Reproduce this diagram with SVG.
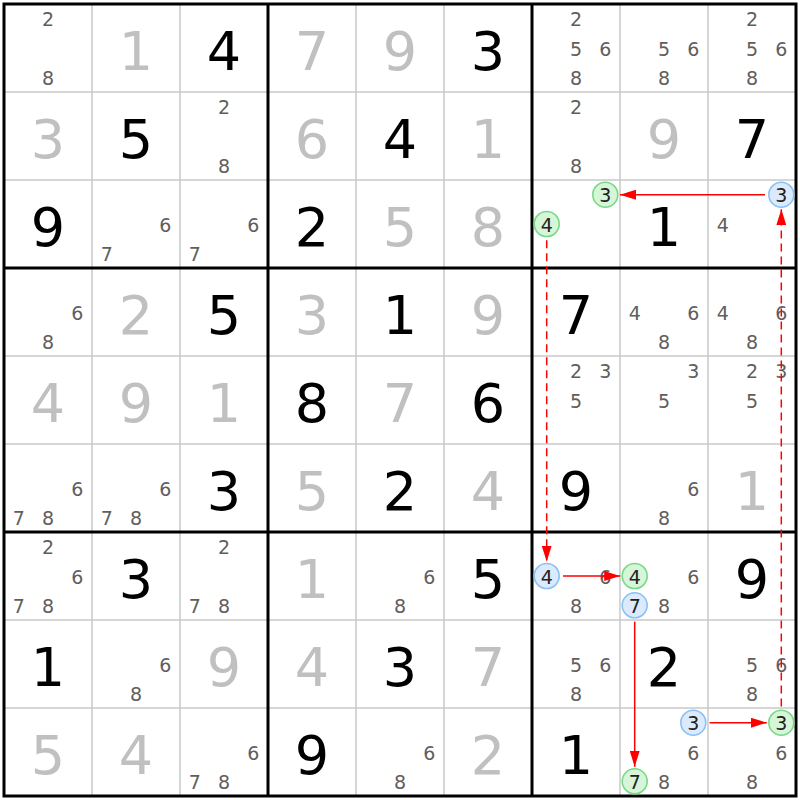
<svg xmlns="http://www.w3.org/2000/svg" width="800" height="800" viewBox="0 0 800 800">
<style>
text{font-family:"DejaVu Sans","Liberation Sans",sans-serif;text-anchor:middle}
.g{font-size:54px;fill:#000}
.s{font-size:54px;fill:#c0c0c0}
.c{font-size:19px;fill:#5e5e5e}
.ct{font-size:19px;fill:#222}
.cg{fill:#d6f5d9;stroke:#78d987;stroke-width:1.6}
.cb{fill:#dbeafc;stroke:#8ac2f4;stroke-width:1.6}
.thin{stroke:#c8c8c8;stroke-width:1.5}
.thick{stroke:#000;stroke-width:3}
.arr{stroke:#f00;stroke-width:1.5;fill:none;marker-end:url(#ah)}
.dash{stroke-dasharray:8 5}
</style>
<defs>
<marker id="ah" markerUnits="userSpaceOnUse" markerWidth="16" markerHeight="10" refX="16" refY="5" orient="auto">
<path d="M0,0 L16,5 L0,10 z" fill="#f00"/>
</marker>
</defs>
<rect x="0" y="0" width="800" height="800" fill="#fff"/>
<g id="grid">
<g class="thin">
<line x1="92" y1="4" x2="92" y2="796"/><line x1="180" y1="4" x2="180" y2="796"/>
<line x1="356" y1="4" x2="356" y2="796"/><line x1="444" y1="4" x2="444" y2="796"/>
<line x1="620" y1="4" x2="620" y2="796"/><line x1="708" y1="4" x2="708" y2="796"/>
<line x1="4" y1="92" x2="796" y2="92"/><line x1="4" y1="180" x2="796" y2="180"/>
<line x1="4" y1="356" x2="796" y2="356"/><line x1="4" y1="444" x2="796" y2="444"/>
<line x1="4" y1="620" x2="796" y2="620"/><line x1="4" y1="708" x2="796" y2="708"/>
</g>
<g class="thick">
<line x1="268" y1="4" x2="268" y2="796"/><line x1="532" y1="4" x2="532" y2="796"/>
<line x1="4" y1="268" x2="796" y2="268"/><line x1="4" y1="532" x2="796" y2="532"/>
<rect x="4" y="4" width="792" height="792" fill="none"/>
</g>
</g>
<g id="r0c0"><text class="c" x="48" y="26.2">2</text><text class="c" x="48" y="84.8">8</text></g>
<g id="r0c1"><text class="s" x="136" y="69.5">1</text></g>
<g id="r0c2"><text class="g" x="224" y="69.5">4</text></g>
<g id="r0c3"><text class="s" x="312" y="69.5">7</text></g>
<g id="r0c4"><text class="s" x="400" y="69.5">9</text></g>
<g id="r0c5"><text class="g" x="488" y="69.5">3</text></g>
<g id="r0c6"><text class="c" x="576" y="26.2">2</text><text class="c" x="576" y="55.5">5</text><text class="c" x="605.3" y="55.5">6</text><text class="c" x="576" y="84.8">8</text></g>
<g id="r0c7"><text class="c" x="664" y="55.5">5</text><text class="c" x="693.3" y="55.5">6</text><text class="c" x="664" y="84.8">8</text></g>
<g id="r0c8"><text class="c" x="752" y="26.2">2</text><text class="c" x="752" y="55.5">5</text><text class="c" x="781.3" y="55.5">6</text><text class="c" x="752" y="84.8">8</text></g>

<g id="r1c0"><text class="s" x="48" y="157.5">3</text></g>
<g id="r1c1"><text class="g" x="136" y="157.5">5</text></g>
<g id="r1c2"><text class="c" x="224" y="114.2">2</text><text class="c" x="224" y="172.8">8</text></g>
<g id="r1c3"><text class="s" x="312" y="157.5">6</text></g>
<g id="r1c4"><text class="g" x="400" y="157.5">4</text></g>
<g id="r1c5"><text class="s" x="488" y="157.5">1</text></g>
<g id="r1c6"><text class="c" x="576" y="114.2">2</text><text class="c" x="576" y="172.8">8</text></g>
<g id="r1c7"><text class="s" x="664" y="157.5">9</text></g>
<g id="r1c8"><text class="g" x="752" y="157.5">7</text></g>

<g id="r2c0"><text class="g" x="48" y="245.5">9</text></g>
<g id="r2c1"><text class="c" x="165.3" y="231.5">6</text><text class="c" x="106.7" y="260.8">7</text></g>
<g id="r2c2"><text class="c" x="253.3" y="231.5">6</text><text class="c" x="194.7" y="260.8">7</text></g>
<g id="r2c3"><text class="g" x="312" y="245.5">2</text></g>
<g id="r2c4"><text class="s" x="400" y="245.5">5</text></g>
<g id="r2c5"><text class="s" x="488" y="245.5">8</text></g>
<g id="r2c6"><circle class="cg" cx="605.3" cy="194.7" r="12.5"/><text class="ct" x="605.3" y="202.2">3</text><circle class="cg" cx="546.7" cy="224" r="12.5"/><text class="ct" x="546.7" y="231.5">4</text></g>
<g id="r2c7"><text class="g" x="664" y="245.5">1</text></g>
<g id="r2c8"><circle class="cb" cx="781.3" cy="194.7" r="12.5"/><text class="ct" x="781.3" y="202.2">3</text><text class="c" x="722.7" y="231.5">4</text></g>

<g id="r3c0"><text class="c" x="77.3" y="319.5">6</text><text class="c" x="48" y="348.8">8</text></g>
<g id="r3c1"><text class="s" x="136" y="333.5">2</text></g>
<g id="r3c2"><text class="g" x="224" y="333.5">5</text></g>
<g id="r3c3"><text class="s" x="312" y="333.5">3</text></g>
<g id="r3c4"><text class="g" x="400" y="333.5">1</text></g>
<g id="r3c5"><text class="s" x="488" y="333.5">9</text></g>
<g id="r3c6"><text class="g" x="576" y="333.5">7</text></g>
<g id="r3c7"><text class="c" x="634.7" y="319.5">4</text><text class="c" x="693.3" y="319.5">6</text><text class="c" x="664" y="348.8">8</text></g>
<g id="r3c8"><text class="c" x="722.7" y="319.5">4</text><text class="c" x="781.3" y="319.5">6</text><text class="c" x="752" y="348.8">8</text></g>

<g id="r4c0"><text class="s" x="48" y="421.5">4</text></g>
<g id="r4c1"><text class="s" x="136" y="421.5">9</text></g>
<g id="r4c2"><text class="s" x="224" y="421.5">1</text></g>
<g id="r4c3"><text class="g" x="312" y="421.5">8</text></g>
<g id="r4c4"><text class="s" x="400" y="421.5">7</text></g>
<g id="r4c5"><text class="g" x="488" y="421.5">6</text></g>
<g id="r4c6"><text class="c" x="576" y="378.2">2</text><text class="c" x="605.3" y="378.2">3</text><text class="c" x="576" y="407.5">5</text></g>
<g id="r4c7"><text class="c" x="693.3" y="378.2">3</text><text class="c" x="664" y="407.5">5</text></g>
<g id="r4c8"><text class="c" x="752" y="378.2">2</text><text class="c" x="781.3" y="378.2">3</text><text class="c" x="752" y="407.5">5</text></g>

<g id="r5c0"><text class="c" x="77.3" y="495.5">6</text><text class="c" x="18.7" y="524.8">7</text><text class="c" x="48" y="524.8">8</text></g>
<g id="r5c1"><text class="c" x="165.3" y="495.5">6</text><text class="c" x="106.7" y="524.8">7</text><text class="c" x="136" y="524.8">8</text></g>
<g id="r5c2"><text class="g" x="224" y="509.5">3</text></g>
<g id="r5c3"><text class="s" x="312" y="509.5">5</text></g>
<g id="r5c4"><text class="g" x="400" y="509.5">2</text></g>
<g id="r5c5"><text class="s" x="488" y="509.5">4</text></g>
<g id="r5c6"><text class="g" x="576" y="509.5">9</text></g>
<g id="r5c7"><text class="c" x="693.3" y="495.5">6</text><text class="c" x="664" y="524.8">8</text></g>
<g id="r5c8"><text class="s" x="752" y="509.5">1</text></g>

<g id="r6c0"><text class="c" x="48" y="554.2">2</text><text class="c" x="77.3" y="583.5">6</text><text class="c" x="18.7" y="612.8">7</text><text class="c" x="48" y="612.8">8</text></g>
<g id="r6c1"><text class="g" x="136" y="597.5">3</text></g>
<g id="r6c2"><text class="c" x="224" y="554.2">2</text><text class="c" x="194.7" y="612.8">7</text><text class="c" x="224" y="612.8">8</text></g>
<g id="r6c3"><text class="s" x="312" y="597.5">1</text></g>
<g id="r6c4"><text class="c" x="429.3" y="583.5">6</text><text class="c" x="400" y="612.8">8</text></g>
<g id="r6c5"><text class="g" x="488" y="597.5">5</text></g>
<g id="r6c6"><circle class="cb" cx="546.7" cy="576" r="12.5"/><text class="ct" x="546.7" y="583.5">4</text><text class="c" x="605.3" y="583.5">6</text><text class="c" x="576" y="612.8">8</text></g>
<g id="r6c7"><circle class="cg" cx="634.7" cy="576" r="12.5"/><text class="ct" x="634.7" y="583.5">4</text><text class="c" x="693.3" y="583.5">6</text><circle class="cb" cx="634.7" cy="605.3" r="12.5"/><text class="ct" x="634.7" y="612.8">7</text><text class="c" x="664" y="612.8">8</text></g>
<g id="r6c8"><text class="g" x="752" y="597.5">9</text></g>

<g id="r7c0"><text class="g" x="48" y="685.5">1</text></g>
<g id="r7c1"><text class="c" x="165.3" y="671.5">6</text><text class="c" x="136" y="700.8">8</text></g>
<g id="r7c2"><text class="s" x="224" y="685.5">9</text></g>
<g id="r7c3"><text class="s" x="312" y="685.5">4</text></g>
<g id="r7c4"><text class="g" x="400" y="685.5">3</text></g>
<g id="r7c5"><text class="s" x="488" y="685.5">7</text></g>
<g id="r7c6"><text class="c" x="576" y="671.5">5</text><text class="c" x="605.3" y="671.5">6</text><text class="c" x="576" y="700.8">8</text></g>
<g id="r7c7"><text class="g" x="664" y="685.5">2</text></g>
<g id="r7c8"><text class="c" x="752" y="671.5">5</text><text class="c" x="781.3" y="671.5">6</text><text class="c" x="752" y="700.8">8</text></g>

<g id="r8c0"><text class="s" x="48" y="773.5">5</text></g>
<g id="r8c1"><text class="s" x="136" y="773.5">4</text></g>
<g id="r8c2"><text class="c" x="253.3" y="759.5">6</text><text class="c" x="194.7" y="788.8">7</text><text class="c" x="224" y="788.8">8</text></g>
<g id="r8c3"><text class="g" x="312" y="773.5">9</text></g>
<g id="r8c4"><text class="c" x="429.3" y="759.5">6</text><text class="c" x="400" y="788.8">8</text></g>
<g id="r8c5"><text class="s" x="488" y="773.5">2</text></g>
<g id="r8c6"><text class="g" x="576" y="773.5">1</text></g>
<g id="r8c7"><circle class="cb" cx="693.3" cy="722.7" r="12.5"/><text class="ct" x="693.3" y="730.2">3</text><text class="c" x="693.3" y="759.5">6</text><circle class="cg" cx="634.7" cy="781.3" r="12.5"/><text class="ct" x="634.7" y="788.8">7</text><text class="c" x="664" y="788.8">8</text></g>
<g id="r8c8"><circle class="cg" cx="781.3" cy="722.7" r="12.5"/><text class="ct" x="781.3" y="730.2">3</text><text class="c" x="781.3" y="759.5">6</text><text class="c" x="752" y="788.8">8</text></g>

<g id="connectors">
<line class="arr" x1="765" y1="194.7" x2="620" y2="194.7"/>
<line class="arr dash" x1="546.7" y1="240.3" x2="546.7" y2="561.5"/>
<line class="arr" x1="563" y1="576" x2="620.2" y2="576"/>
<line class="arr" x1="634.7" y1="621.6" x2="634.7" y2="766.8"/>
<line class="arr" x1="709.6" y1="722.7" x2="766.8" y2="722.7"/>
<line class="arr dash" x1="781.3" y1="706.4" x2="781.3" y2="209.2"/>
</g>
</svg>
